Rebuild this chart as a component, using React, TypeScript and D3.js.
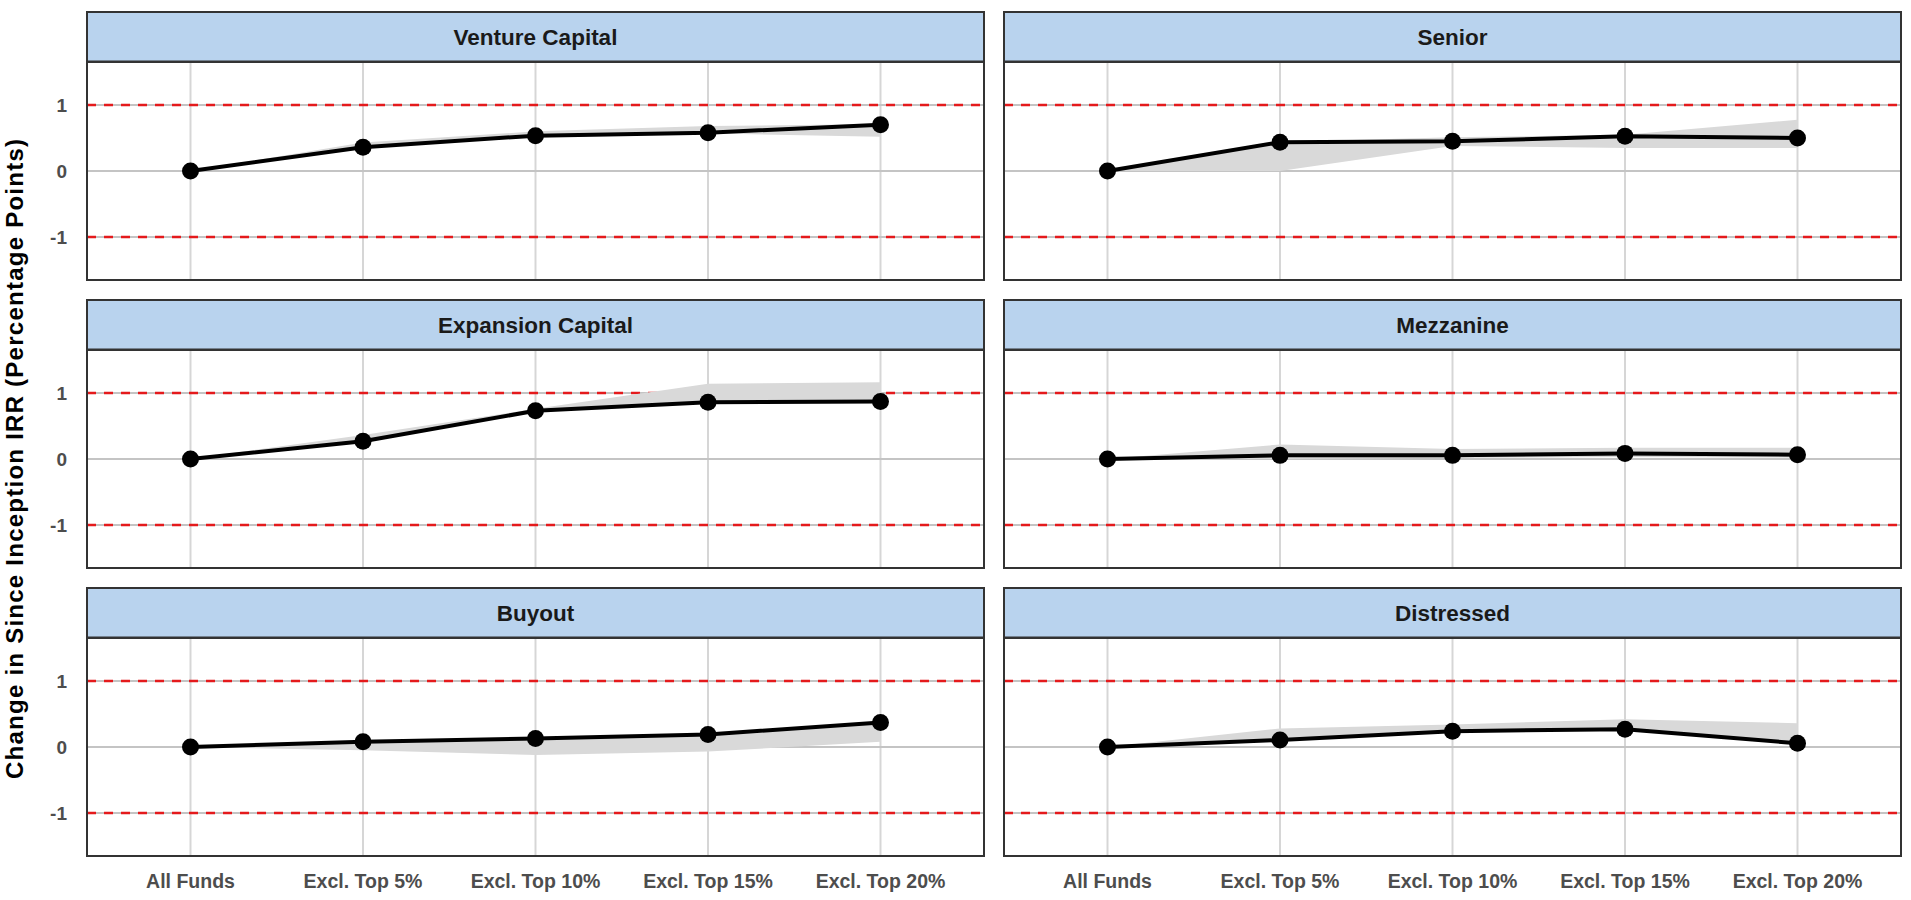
import React from 'react'
import * as d3 from 'd3'

const categories = ['All Funds', 'Excl. Top 5%', 'Excl. Top 10%', 'Excl. Top 15%', 'Excl. Top 20%']
const yTicks = [-1, 0, 1]

// panel order: left column top→bottom, then right column
const panelNames = ['Venture Capital', 'Expansion Capital', 'Buyout', 'Senior', 'Mezzanine', 'Distressed']

const ventureMid = [0, 0.36, 0.535, 0.58, 0.7]
const ventureLow = [0, 0.35, 0.52, 0.57, 0.52]
const ventureHigh = [0, 0.43, 0.6, 0.68, 0.71]

const expansionMid = [0, 0.27, 0.73, 0.86, 0.87]
const expansionLow = [0, 0.25, 0.72, 0.84, 0.85]
const expansionHigh = [0, 0.365, 0.76, 1.14, 1.16]

const buyoutMid = [0, 0.08, 0.13, 0.19, 0.37]
const buyoutLow = [0, -0.05, -0.12, -0.07, 0.08]
const buyoutHigh = [0, 0.09, 0.14, 0.2, 0.38]

const seniorMid = [0, 0.435, 0.45, 0.525, 0.5]
const seniorLow = [0, 0.0, 0.38, 0.35, 0.35]
const seniorHigh = [0, 0.44, 0.51, 0.55, 0.775]

const mezzanineMid = [0, 0.055, 0.055, 0.085, 0.065]
const mezzanineLow = [0, 0.0, 0.02, 0.03, 0.02]
const mezzanineHigh = [0, 0.22, 0.15, 0.17, 0.17]

const distressedMid = [0, 0.106, 0.24, 0.27, 0.056]
const distressedLow = [0, 0.09, 0.22, 0.25, 0.05]
const distressedHigh = [0, 0.28, 0.34, 0.42, 0.36]

const panelMid = [ventureMid, expansionMid, buyoutMid, seniorMid, mezzanineMid, distressedMid]
const panelLow = [ventureLow, expansionLow, buyoutLow, seniorLow, mezzanineLow, distressedLow]
const panelHigh = [ventureHigh, expansionHigh, buyoutHigh, seniorHigh, mezzanineHigh, distressedHigh]

const W = 1911
const H = 900
const colX = [87, 1004]
const panelW = 897
const rowTop = [12, 300, 588]
const stripH = 50
const bodyH = 218
const FONT = '"Liberation Sans", Arial, sans-serif'

function Panel({ idx }: { idx: number }) {
  const col = Math.floor(idx / 3)
  const row = idx % 3
  const x0 = colX[col]
  const top = rowTop[row]
  const bodyTop = top + stripH

  const x = d3.scalePoint<string>().domain(categories).range([0, panelW]).padding(0.6)
  const y = d3.scaleLinear().domain([-1.65, 1.65]).range([bodyH, 0])

  const mid = panelMid[idx]
  const low = panelLow[idx]
  const high = panelHigh[idx]
  const pts = categories.map((c, i) => ({ c, m: mid[i], lo: low[i], hi: high[i] }))

  const area = d3
    .area<any>()
    .x((d) => x(d.c)!)
    .y0((d) => y(d.lo))
    .y1((d) => y(d.hi))
  const line = d3
    .line<any>()
    .x((d) => x(d.c)!)
    .y((d) => y(d.m))

  return (
    <g>
      {/* strip */}
      <rect x={x0} y={top} width={panelW} height={stripH} fill="#b9d3ee" stroke="#333" strokeWidth={2} />
      <line x1={x0} x2={x0 + panelW} y1={top + stripH} y2={top + stripH} stroke="#333" strokeWidth={3} />
      <text
        x={x0 + panelW / 2}
        y={top + stripH / 2}
        dy="0.36em"
        textAnchor="middle"
        fontFamily={FONT}
        fontWeight="bold"
        fontSize={22.5}
        fill="#1a1a1a"
      >
        {panelNames[idx]}
      </text>

      <g transform={`translate(${x0},${bodyTop})`}>
        <rect width={panelW} height={bodyH} fill="#fff" />
        {categories.map((c) => (
          <line key={c} x1={x(c)} x2={x(c)} y1={0} y2={bodyH} stroke="#d6d6d6" strokeWidth={2} />
        ))}
        {yTicks.map((t) => (
          <line key={t} x1={0} x2={panelW} y1={y(t)} y2={y(t)} stroke="#c4c4c4" strokeWidth={2} />
        ))}
        {[-1, 1].map((t) => (
          <line
            key={`r${t}`}
            x1={0}
            x2={panelW}
            y1={y(t)}
            y2={y(t)}
            stroke="#e41a1c"
            strokeWidth={2.6}
            strokeDasharray="9,8"
          />
        ))}
        <path d={area(pts) || ''} fill="#d9d9d9" />
        <path d={line(pts) || ''} fill="none" stroke="#000" strokeWidth={4} strokeLinejoin="round" />
        {pts.map((p) => (
          <circle key={p.c} cx={x(p.c)} cy={y(p.m)} r={8.5} fill="#000" />
        ))}
        <rect width={panelW} height={bodyH} fill="none" stroke="#333" strokeWidth={2} />

        {col === 0 &&
          yTicks.map((t) => (
            <text
              key={`yl${t}`}
              x={-20}
              y={y(t)}
              dy="0.36em"
              textAnchor="end"
              fontFamily={FONT}
              fontWeight="bold"
              fontSize={19}
              fill="#4d4d4d"
            >
              {t}
            </text>
          ))}
        {row === 2 &&
          categories.map((c) => (
            <text
              key={`xl${c}`}
              x={x(c)}
              y={bodyH + 25}
              dy="0.36em"
              textAnchor="middle"
              fontFamily={FONT}
              fontWeight="bold"
              fontSize={19.5}
              fill="#4d4d4d"
            >
              {c}
            </text>
          ))}
      </g>
    </g>
  )
}

export default function App() {
  return (
    <div style={{ position: 'absolute', left: 0, top: 0 }}>
      <svg width={W} height={H} viewBox={`0 0 ${W} ${H}`} style={{ display: 'block', background: '#fff' }}>
        <rect width={W} height={H} fill="#fff" />
        {panelNames.map((n, i) => (
          <Panel key={n} idx={i} />
        ))}
        <text
          transform={`translate(14,459) rotate(-90)`}
          textAnchor="middle"
          dy="0.36em"
          fontFamily={FONT}
          fontWeight="bold"
          fontSize={24}
          textLength={640}
          lengthAdjust="spacing"
          fill="#000"
        >
          Change in Since Inception IRR (Percentage Points)
        </text>
      </svg>
    </div>
  )
}
